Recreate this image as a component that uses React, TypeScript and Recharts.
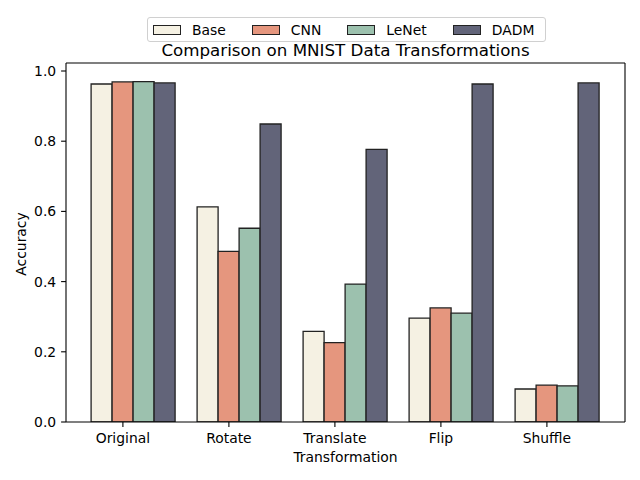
import React from "react";
import {
  BarChart,
  Bar,
  XAxis,
  YAxis,
  Legend,
  Label,
} from "recharts";

const categories = ["Original", "Rotate", "Translate", "Flip", "Shuffle"];
const baseValues = [0.963, 0.613, 0.258, 0.296, 0.094];
const cnnValues = [0.969, 0.486, 0.226, 0.325, 0.105];
const lenetValues = [0.970, 0.552, 0.393, 0.310, 0.103];
const dadmValues = [0.966, 0.849, 0.777, 0.963, 0.966];
const yTicks = [0, 0.2, 0.4, 0.6, 0.8, 1.0];

const series = [
  { key: "base", name: "Base", color: "#F5F1E3" },
  { key: "cnn", name: "CNN", color: "#E5967E" },
  { key: "lenet", name: "LeNet", color: "#9CC1AE" },
  { key: "dadm", name: "DADM", color: "#626479" },
];

const data = categories.map((name, i) => ({
  name,
  base: baseValues[i],
  cnn: cnnValues[i],
  lenet: lenetValues[i],
  dadm: dadmValues[i],
}));

const FONT = "'DejaVu Sans', sans-serif";
const EDGE = "#222222";

// matplotlib puts the tick under the second bar of each group
const XTick = (props: any) => {
  const { x, y, payload } = props;
  const tx = x - 10.6;
  return (
    <g>
      <line x1={tx} y1={y} x2={tx} y2={y + 4.9} stroke="#000" strokeWidth={1.1} />
      <text
        x={tx}
        y={y + 10}
        dy="0.76em"
        textAnchor="middle"
        fontSize={13.9}
        fill="#000"
        fontFamily={FONT}
      >
        {payload.value}
      </text>
    </g>
  );
};

const LegendBox = () => (
  <div
    style={{
      boxSizing: "border-box",
      width: 399,
      height: 25,
      border: "1px solid #d0d0d0",
      borderRadius: 3,
      background: "rgba(255,255,255,0.8)",
      display: "flex",
      alignItems: "center",
      paddingLeft: 5,
      fontFamily: FONT,
      fontSize: 13.9,
      color: "#000",
    }}
  >
    {series.map((s) => (
      <div key={s.key} style={{ display: "flex", alignItems: "center", marginRight: 26 }}>
        <span
          style={{
            boxSizing: "border-box",
            display: "inline-block",
            width: 28,
            height: 10,
            background: s.color,
            border: `1.3px solid ${EDGE}`,
            marginRight: 11,
          }}
        />
        <span>{s.name}</span>
      </div>
    ))}
  </div>
);

export default function App() {
  return (
    <div style={{ position: "absolute", left: 0, top: 0, fontFamily: FONT }}>
      <BarChart
        width={640}
        height={480}
        data={data}
        margin={{ top: 62, right: 14, bottom: 0, left: 0 }}
        barCategoryGap={10.6}
        barGap={0}
      >
        <XAxis
          dataKey="name"
          height={58}
          padding={{ left: 14.5, right: 14.5 }}
          stroke="#000"
          axisLine={{ stroke: "#000", strokeWidth: 1.1 }}
          tickLine={false}
          tickSize={0}
          tickMargin={0}
          tick={<XTick />}
          interval={0}
        >
          <Label
            content={() => (
              <text x={345.5} y={462} textAnchor="middle" fontSize={13.9} fill="#000" fontFamily={FONT}>
                Transformation
              </text>
            )}
          />
        </XAxis>
        <XAxis
          xAxisId="top"
          dataKey="name"
          orientation="top"
          height={1}
          tick={false}
          tickLine={false}
          axisLine={{ stroke: "#000", strokeWidth: 1.1 }}
          padding={{ left: 14.5, right: 14.5 }}
        >
          <Label
            content={() => (
              <text x={345.5} y={55.5} textAnchor="middle" fontSize={16.7} fill="#000" fontFamily={FONT}>
                Comparison on MNIST Data Transformations
              </text>
            )}
          />
        </XAxis>
        <YAxis
          width={66}
          domain={[0, 1.0228]}
          ticks={yTicks}
          tickFormatter={(v: number) => v.toFixed(1)}
          allowDataOverflow
          axisLine={{ stroke: "#000", strokeWidth: 1.1 }}
          tickLine={{ stroke: "#000", strokeWidth: 1.1 }}
          tickSize={4.9}
          tickMargin={4.9}
          tick={{ fontSize: 13.9, fill: "#000", fontFamily: FONT }}
        >
          <Label
            content={() => (
              <text
                x={26}
                y={244}
                transform="rotate(-90 26 244)"
                textAnchor="middle"
                fontSize={13.9}
                fill="#000"
                fontFamily={FONT}
              >
                Accuracy
              </text>
            )}
          />
        </YAxis>
        <YAxis
          yAxisId="right"
          orientation="right"
          width={1}
          tick={false}
          tickLine={false}
          axisLine={{ stroke: "#000", strokeWidth: 1.1 }}
        />
        <Legend
          layout="horizontal"
          verticalAlign="middle"
          align="center"
          wrapperStyle={{ top: 17, left: 147, width: 399 }}
          content={() => <LegendBox />}
        />
        {series.map((s) => (
          <Bar
            key={s.key}
            dataKey={s.key}
            name={s.name}
            fill={s.color}
            stroke={EDGE}
            strokeWidth={1.3}
            isAnimationActive={false}
          />
        ))}
      </BarChart>
    </div>
  );
}
